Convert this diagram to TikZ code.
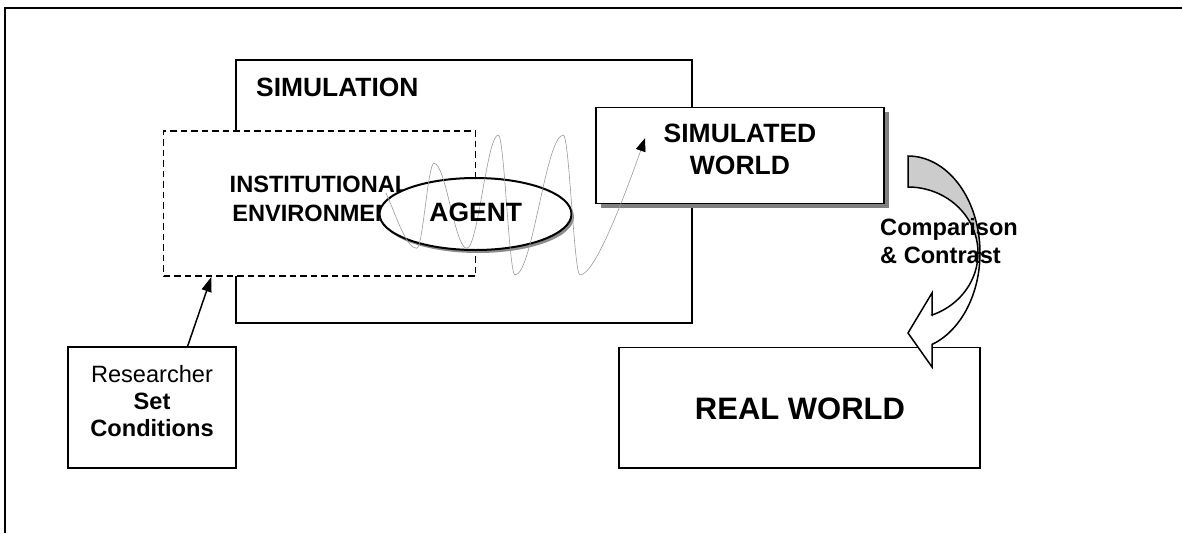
\documentclass[tikz,border=0pt]{standalone}
\usepackage{fontspec}
\setmainfont{Liberation Sans}
\usetikzlibrary{arrows.meta,calc,shapes.geometric,shadows}
\tikzset{
  frameline/.style={line width=2pt},
  boxstyle/.style={draw, line width=1.5pt, fill=white, inner sep=0pt},
  envbox/.style={draw, line width=1.5pt, fill=white, inner sep=0pt, dash pattern=on 6.5pt off 4pt},
  agentell/.style={ellipse, draw, line width=2pt, fill=white, inner sep=0pt,
     drop shadow={shadow xshift=2.5pt, shadow yshift=-3pt, fill=black!45, opacity=1}},
  swshadow/.style={drop shadow={shadow xshift=4.5pt, shadow yshift=-5pt, fill=black!50, opacity=1}},
  txtA/.style={font=\fontsize{23.6}{29}\selectfont\bfseries, inner sep=0pt},
  txtB/.style={font=\fontsize{26.5}{32}\selectfont\bfseries, inner sep=0pt},
  wave/.style={draw=black!40, line width=0.6pt},
  curvedarrow/.style={draw, line width=1.5pt},
}
\begin{document}
\begin{tikzpicture}[x=1pt,y=-1pt]
\useasboundingbox (0,0) rectangle (1182,533);
% outer frame
\draw[frameline] (5,533) -- (5,8) -- (1182,8);

% simulation box
\node[draw, line width=1.5pt, minimum width=456pt, minimum height=263pt, inner sep=0pt] (sim) at (464,191.5) {};
\node[txtB, anchor=base west, font=\fontsize{26.4}{32}\selectfont\bfseries] (simlabel) at (256,96) {SIMULATION};

% institutional environment
\node[envbox, minimum width=312pt, minimum height=145pt] (env) at (319.6,203.5) {};
\node[txtA, align=center] (envtext) at (319.5,199) {INSTITUTIONAL\\ENVIRONMENT};

% agent
\node[agentell, minimum width=192pt, minimum height=72pt] (agent) at (475.5,214) {};

% simulated world
\node[boxstyle, swshadow, minimum width=288pt, minimum height=96pt] (sw) at (740,155.3) {};

% wave
\coordinate (ws) at (386,193);
\coordinate (wt1) at (416.7,248.3);
\coordinate (wp1) at (434,163.3);
\coordinate (wt2) at (466.7,248.3);
\coordinate (wp2) at (498.3,135);
\coordinate (wt3) at (515,275);
\coordinate (wp3) at (563.3,135);
\coordinate (wt4) at (580,275);
\coordinate (we) at (645,138.3);
\draw[wave, -{Triangle[length=13pt,width=10pt,black]}]
  (ws) .. controls (396,215) and (406,248.3) .. (wt1)
       .. controls (422.9,248.3) and (427.8,163.3) .. (wp1)
       .. controls (445.8,163.3) and (454.9,248.3) .. (wt2)
       .. controls (478.1,248.3) and (486.9,135) .. (wp2)
       .. controls (504.3,135) and (509,275) .. (wt3)
       .. controls (532.4,275) and (545.9,135) .. (wp3)
       .. controls (569.3,135) and (574,275) .. (wt4)
       .. controls (595,275) and (625,195) .. (we);

\node[txtB] (agenttext) at (475.8,212.7) {AGENT};
\node[txtB, align=center] (swtext) at (740,149) {SIMULATED\\WORLD};

% real world
\node[boxstyle, minimum width=361pt, minimum height=120.5pt] (rw) at (799.7,407.5) {};
\node[font=\fontsize{31}{36}\selectfont\bfseries, inner sep=0pt] (rwtext) at (800,409) {REAL WORLD};

% curved arrow
\filldraw[curvedarrow, fill=black!20]
  plot[domain=-90:0, samples=40] ({908+72*cos(\x)},{253+97*sin(\x)})
  -- plot[domain=0:-90, samples=40] ({908+70*cos(\x)},{253+66*sin(\x)})
  -- cycle;
\filldraw[curvedarrow, fill=white]
  plot[domain=0:70.53, samples=40] ({908+72*cos(\x)},{253+97*sin(\x)})
  -- (932,367) -- (908,333) -- (932,293) -- (932,315)
  -- plot[domain=69.95:0, samples=40] ({908+70*cos(\x)},{253+66*sin(\x)})
  -- cycle;
\node[txtA, font=\fontsize{23.6}{28}\selectfont\bfseries, align=left, anchor=north west] (cmp) at (880,218) {Comparison\\\& Contrast};

% researcher
\node[boxstyle, minimum width=168pt, minimum height=121pt] (rb) at (152,407.5) {};
\node[font=\fontsize{23.6}{27}\selectfont, align=center, anchor=north, inner sep=0pt] (rbtext) at (152,365) {Researcher\\\textbf{Set}\\\textbf{Conditions}};
\draw[line width=1.5pt, -{Triangle[length=15pt,width=10pt]}]
  ($(rb.north west)!0.71!(rb.north east)$) -- ($(env.south west)!0.155!(env.south east)$);
\end{tikzpicture}
\end{document}
